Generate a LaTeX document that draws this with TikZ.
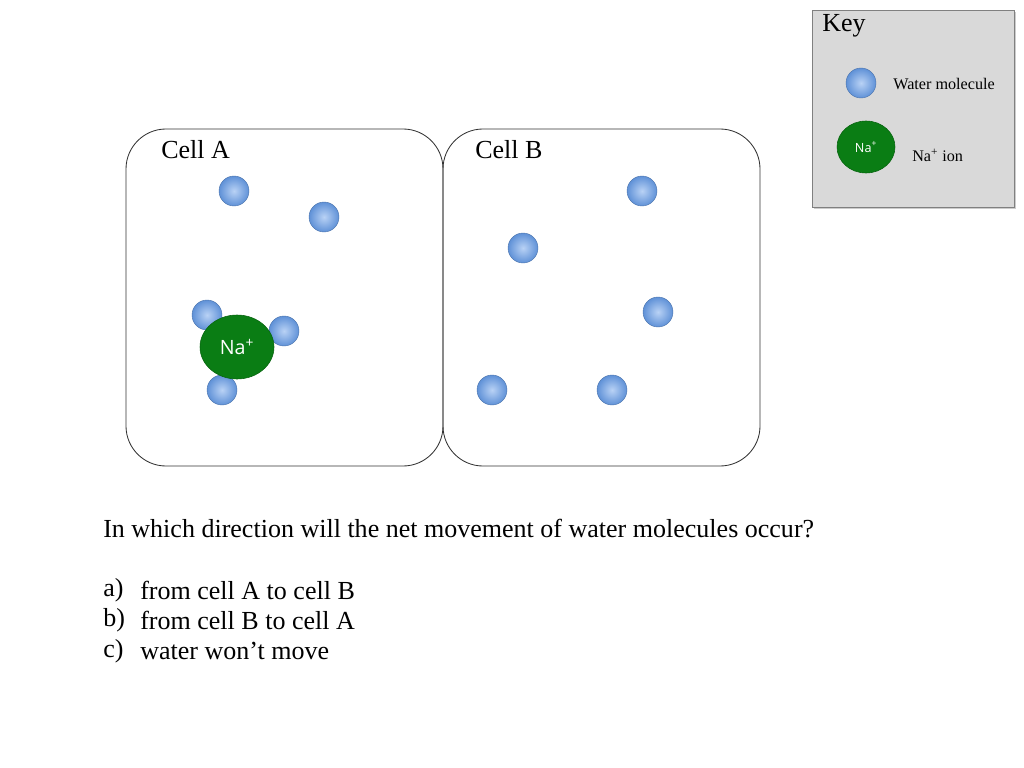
\documentclass[tikz,border=0pt]{standalone}
\usepackage{fontspec}
\setmainfont{Liberation Serif}
\newfontfamily\ionfont{Open Sans}
\usetikzlibrary{shadows,shapes.geometric}
\definecolor{waterblue}{RGB}{95,145,215}
\definecolor{waterlight}{RGB}{185,210,245}
\definecolor{ionGreen}{RGB}{10,125,20}
\tikzset{
  cellbox/.style={draw=black!80, rounded corners=40*0.025cm, line width=0.6pt},
  water/.style={circle, minimum size=30*0.025cm, inner sep=0pt, draw=waterblue!80!black, line width=0.3pt, inner color=waterlight, outer color=waterblue},
  ion/.style={ellipse, fill=ionGreen, draw=ionGreen!80!black, inner sep=0pt, text=white, font=\ionfont\fontsize{14}{16}\selectfont},
  lbl/.style={anchor=west, inner sep=0pt, font=\fontsize{18.5}{22}\selectfont},
}
\begin{document}
\begin{tikzpicture}[x=0.025cm, y=-0.025cm]
  \useasboundingbox (0,0) rectangle (1024,768);
  % key
  \node[draw=black!50, fill=black!15, drop shadow={shadow xshift=1.5pt, shadow yshift=-1.5pt, opacity=0.4}, minimum width=202*0.025cm, minimum height=197*0.025cm, inner sep=0pt, anchor=north west] (keybox) at (812,10) {};
  \node[lbl] (keytitle) at (822,26) {Key};
  \node[water] (keywater) at (861,83) {};
  \node[lbl, font=\fontsize{11.5}{13}\selectfont] (keywaterlbl) at (893,84) {Water molecule};
  \node[ion, minimum width=58*0.025cm, minimum height=52*0.025cm, font=\ionfont\fontsize{9}{10}\selectfont] (keyion) at (866,147) {Na\textsuperscript{+}};
  \node[lbl, font=\fontsize{11.5}{13}\selectfont] (keyionlbl) at (912,155) {Na\textsuperscript{+} ion};
  % cells
  \draw[cellbox] (126,129) rectangle (443,466);
  \draw[cellbox] (443,129) rectangle (760,466);
  \node[lbl] (cellA) at (161,150) {Cell A};
  \node[lbl] (cellB) at (475,150) {Cell B};
  % cell A
  \foreach \x/\y [count=\i] in {234/191, 324/217, 207/315, 284/331, 222/390}
    \node[water] (wa\i) at (\x,\y) {};
  \node[ion, minimum width=74*0.025cm, minimum height=64*0.025cm] (naA) at (237,347) {Na\textsuperscript{+}};
  % cell B
  \foreach \x/\y [count=\i] in {642/191, 523/248, 658/312, 492/390, 612/390}
    \node[water] (wb\i) at (\x,\y) {};
  % question
  \node[lbl] (question) at (103,529) {In which direction will the net movement of water molecules occur?};
  \node[lbl] (ansa) at (103,590) {a)};
  \node[lbl] (ansatext) at (140,590) {from cell A to cell B};
  \node[lbl] (ansb) at (103,620) {b)};
  \node[lbl] (ansbtext) at (140,620) {from cell B to cell A};
  \node[lbl] (ansc) at (103,651) {c)};
  \node[lbl] (ansctext) at (140,651) {water won’t move};
\end{tikzpicture}
\end{document}
